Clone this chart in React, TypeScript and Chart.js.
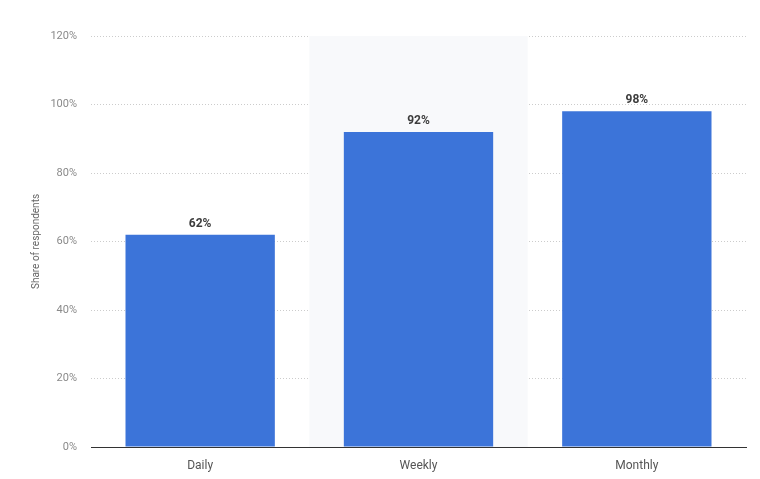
// @ts-nocheck
import { useEffect, useRef } from "react";
import { Chart, registerables } from "chart.js";

Chart.register(...registerables);

const categories = ["Daily", "Weekly", "Monthly"];
const shares = [62, 92, 98];
const highlightIndex = 1;

const FONT = "Roboto, 'Open Sans', sans-serif";

const bandPlugin = {
  id: "band",
  beforeDatasetsDraw(chart) {
    const { ctx, chartArea, scales } = chart;
    const x = scales.x;
    const step = x.width / categories.length;
    const center = x.getPixelForValue(highlightIndex);
    ctx.save();
    ctx.fillStyle = "#f8f9fb";
    ctx.fillRect(center - step / 2, chartArea.top, step, chartArea.bottom - chartArea.top);
    ctx.restore();
  },
};

const labelPlugin = {
  id: "valueLabels",
  afterDatasetsDraw(chart) {
    const { ctx } = chart;
    const meta = chart.getDatasetMeta(0);
    ctx.save();
    ctx.font = `bold 12px ${FONT}`;
    ctx.fillStyle = "#3d3d3d";
    ctx.textAlign = "center";
    ctx.textBaseline = "bottom";
    meta.data.forEach((bar, i) => {
      ctx.fillText(`${shares[i]}%`, bar.x, bar.y - 5);
    });
    ctx.restore();
  },
};

export default function App() {
  const canvasRef = useRef<HTMLCanvasElement>(null);
  const chartRef = useRef<Chart | null>(null);

  useEffect(() => {
    document.body.style.margin = "0";
    if (!canvasRef.current) return;
    if (chartRef.current) chartRef.current.destroy();

    chartRef.current = new Chart(canvasRef.current, {
      type: "bar",
      data: {
        labels: categories,
        datasets: [
          {
            data: shares,
            backgroundColor: "#3c74d9",
            barPercentage: 0.684,
            categoryPercentage: 1,
          },
        ],
      },
      options: {
        animation: false,
        responsive: false,
        layout: { padding: { top: 36, right: 14, bottom: 0, left: 0 } },
        plugins: {
          legend: { display: false },
          tooltip: { enabled: false },
        },
        scales: {
          x: {
            grid: { display: false },
            border: { display: true, color: "#333", width: 1 },
            ticks: { color: "#555", font: { family: FONT, size: 12 }, padding: 4 },
            afterFit: (s) => {
              s.height = 32;
            },
          },
          y: {
            min: 0,
            max: 120,
            grid: { color: "#cccccc", drawTicks: false },
            border: { display: false, dash: [1, 2] },
            ticks: {
              stepSize: 20,
              padding: 14,
              color: "#8a8a8a",
              font: { family: FONT, size: 11 },
              callback: (v) => `${v}%`,
            },
            title: {
              display: true,
              text: "Share of respondents",
              color: "#666",
              font: { family: FONT, size: 10 },
              padding: { top: 30, bottom: 0 },
            },
            afterFit: (s) => {
              s.width = 91;
            },
          },
        },
      },
      plugins: [bandPlugin, labelPlugin],
    });

    return () => chartRef.current?.destroy();
  }, []);

  return <canvas ref={canvasRef} width={760} height={479} />;
}
